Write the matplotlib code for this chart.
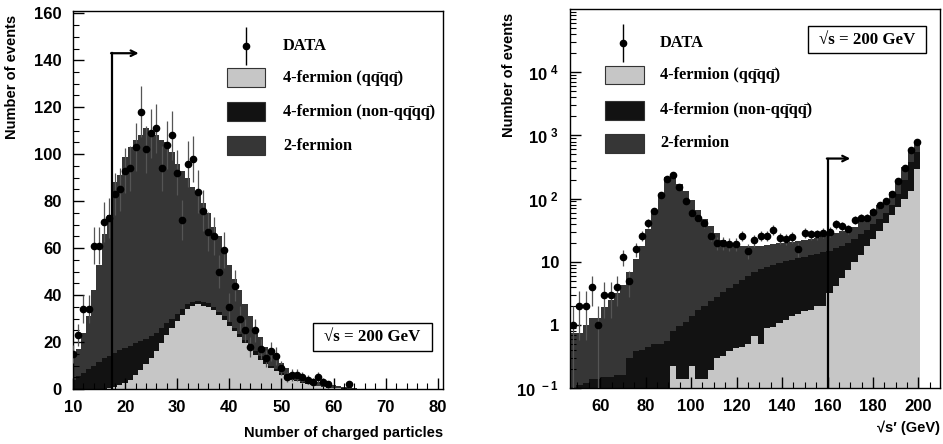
import matplotlib
matplotlib.use('Agg')
import matplotlib.pyplot as plt
import numpy as np
from matplotlib.patches import Rectangle
from matplotlib.ticker import MultipleLocator, FixedLocator, FixedFormatter, LogLocator, NullFormatter

plt.rcParams['font.family'] = ['Liberation Sans', 'DejaVu Sans']
plt.rcParams['font.weight'] = 'bold'
plt.rcParams['mathtext.fontset'] = 'custom'
plt.rcParams['mathtext.bf'] = 'Liberation Sans:bold'
plt.rcParams['mathtext.rm'] = 'Liberation Sans'

# Colores de las tres contribuciones simuladas
col_qqqq = '#c6c6c6'
col_non = '#121212'
col_2f = '#363636'

# ---------------- Panel izquierdo: numero de particulas cargadas ----------------
mult = np.arange(10, 65)  # bines de ancho 1 centrados en enteros
# Alturas apiladas (tope de cada capa)
top_total_izq = [14, 17, 24, 31, 42, 53, 66, 74, 88, 91, 99, 103, 106, 108, 111, 110, 108, 106, 105, 101,
                 96, 93, 90, 86, 83, 79, 75, 69, 65, 60, 53, 47, 42, 36, 31, 26, 22, 18, 16, 13,
                 11, 9, 7, 6.5, 5.5, 4.5, 3.8, 3, 2.5, 2, 1.6, 1.3, 1, 0.8, 0.5]
top_4f_izq = [4, 5.5, 7, 8.5, 10, 11.5, 13, 14, 15.5, 16.5, 17.5, 18.5, 19.5, 20.5, 21.5, 22.5, 24, 26, 28, 30,
              32, 34, 36, 37, 37.5, 37, 36.5, 35, 33, 31, 28.5, 26, 23.5, 21, 18.5, 16, 14, 12, 10, 8.5,
              7, 5.8, 4.8, 3.9, 3.1, 2.5, 1.9, 1.4, 1, 0.8, 0.6, 0.4, 0.3, 0.2, 0.1]
top_qqqq_izq = [0, 0, 0, 0, 0, 0, 0, 0.3, 0.8, 1.5, 2.5, 4, 6, 8, 10.5, 13, 16, 19.5, 23, 26,
                29, 31.5, 34, 35.5, 36, 35.5, 35, 33.5, 31.5, 29.5, 27, 24.5, 22, 19.5, 17, 14.5, 12.5, 10.5, 9, 7.5,
                6, 5, 4, 3.2, 2.5, 2, 1.5, 1.1, 0.8, 0.6, 0.4, 0.3, 0.2, 0.1, 0.05]
datos_x_izq = [10, 11, 12, 13, 14, 15, 16, 17, 18, 19, 20, 21, 22, 23, 24, 25, 26, 27, 28, 29,
               30, 31, 32, 33, 34, 35, 36, 37, 38, 39, 40, 41, 42, 43, 44, 45, 46, 47, 48, 49,
               50, 51, 52, 53, 54, 55, 56, 57, 58, 59, 63]
datos_y_izq = [15, 23, 34, 34, 61, 61, 71, 73, 83, 85, 93, 94, 103, 118, 102, 109, 111, 94, 104, 108,
               92, 72, 96, 98, 84, 76, 67, 65, 50, 59, 35, 44, 30, 25, 18, 25, 17, 13, 16, 14,
               9, 5, 6, 6, 5, 4, 3, 5, 3, 2, 2]

# ---------------- Panel derecho: sqrt(s') ----------------
bordes_der = 2.75 * np.arange(17, 74)  # 56 bines de 2.75 GeV
top_total_der = [0.74, 0.74, 1.0, 1.3, 1.3, 1.9, 2.5, 3.2, 4.3, 7,
                 11, 18, 33, 60, 118, 220, 220, 170, 130, 95,
                 66, 48, 37, 28, 22, 19, 18, 17.5, 17.5, 18,
                 18, 18.5, 19, 19.5, 20, 20.5, 21, 22, 23, 24,
                 26, 28, 29, 31, 33, 36, 48, 51, 67, 80,
                 96, 126, 199, 317, 596, 807]
top_4f_der = [0.09, 0.11, 0.12, 0.14, 0.14, 0.15, 0.15, 0.16, 0.16, 0.3,
              0.38, 0.4, 0.45, 0.49, 0.5, 0.55, 0.8, 0.95, 1.1, 1.4,
              1.7, 2.0, 2.4, 2.8, 3.3, 3.9, 4.5, 5.2, 6.0, 6.8,
              7.6, 8.4, 9.0, 9.6, 10.2, 10.8, 11.4, 12.0, 12.6, 13.3,
              14.0, 15.0, 16.5, 18, 20, 23, 27, 32, 40, 48,
              60, 80, 120, 200, 380, 550]
top_qqqq_der = [0, 0, 0, 0, 0, 0, 0, 0, 0, 0,
                0, 0, 0, 0, 0, 0, 0.22, 0.14, 0.14, 0.22,
                0.14, 0.14, 0.19, 0.3, 0.32, 0.38, 0.43, 0.45, 0.49, 0.66,
                0.49, 0.89, 0.94, 1.07, 1.2, 1.37, 1.5, 1.64, 1.74, 1.97,
                2.0, 3.2, 4.2, 5.6, 7.5, 10, 13, 18, 23, 31,
                41, 55, 73, 98, 130, 295]
datos_y_der = [1, 2, 2, 4, 1, 3, 3, 4, 12, 5,
               16, 26, 41, 63, 112, 205, 240, 151, 93, 59,
               49, 41, 26, 20, 20, 19, 19, 26, 15, 22,
               26, 26, 32, 24, 23, 25, 16, 29, 27, 27,
               29, 30, 39, 37, 33, 46, 49, 50, 62, 78,
               92, 120, 190, 300, 580, 790]

fig = plt.figure(figsize=(9.43, 4.44), dpi=100)
ax1 = fig.add_axes([0.0774, 0.1239, 0.3924, 0.8514])
ax2 = fig.add_axes([0.6045, 0.126, 0.3924, 0.8536])

# Histogramas apilados
bordes_izq = np.append(mult - 0.5, mult[-1] + 0.5)
ax1.stairs(top_total_izq, bordes_izq, fill=True, color=col_2f, lw=0)
ax1.stairs(top_4f_izq, bordes_izq, fill=True, color=col_non, lw=0)
ax1.stairs(top_qqqq_izq, bordes_izq, fill=True, color=col_qqqq, lw=0)
ax1.errorbar(datos_x_izq, datos_y_izq, yerr=np.sqrt(datos_y_izq), fmt='o', ms=4.5, color='k',
             ecolor='#555555', elinewidth=0.9, capsize=0, zorder=4)

base = 1e-3
ax2.stairs(np.maximum(top_total_der, base), bordes_der, baseline=base, fill=True, color=col_2f, lw=0)
ax2.stairs(np.maximum(top_4f_der, base), bordes_der, baseline=base, fill=True, color=col_non, lw=0)
ax2.stairs(np.maximum(top_qqqq_der, base), bordes_der, baseline=base, fill=True, color=col_qqqq, lw=0)
centros_der = 0.5 * (bordes_der[:-1] + bordes_der[1:])
yd = np.array(datos_y_der, dtype=float)
err_bajo = np.minimum(np.sqrt(yd), yd * 0.999)
ax2.errorbar(centros_der, yd, yerr=[err_bajo, np.sqrt(yd)], fmt='o', ms=4.5, color='k',
             ecolor='#555555', elinewidth=0.9, capsize=0, zorder=4)
ax2.set_yscale('log')

# Lineas de corte con flecha
ax1.plot([17.5, 17.5], [0, 143], color='k', lw=1.6, zorder=5)
ax1.annotate('', xy=(22.6, 143), xytext=(17.3, 143),
             arrowprops=dict(arrowstyle='->', lw=1.6, color='k', shrinkA=0, shrinkB=0), zorder=5)
ax2.plot([160, 160], [0.1, 430], color='k', lw=1.6, zorder=5)
ax2.annotate('', xy=(170, 430), xytext=(159.7, 430),
             arrowprops=dict(arrowstyle='->', lw=1.6, color='k', shrinkA=0, shrinkB=0), zorder=5)

# Ejes
ax1.set_xlim(10, 81)
ax1.set_ylim(0, 161)
ax1.xaxis.set_major_locator(MultipleLocator(10))
ax1.xaxis.set_minor_locator(MultipleLocator(2))
ax1.yaxis.set_major_locator(MultipleLocator(20))
ax1.yaxis.set_minor_locator(MultipleLocator(5))

ax2.set_xlim(46.75, 209.5)
ax2.set_ylim(0.1, 1e5)
ax2.xaxis.set_major_locator(MultipleLocator(20))
ax2.xaxis.set_minor_locator(MultipleLocator(5))
ax2.yaxis.set_major_locator(FixedLocator([0.1, 1, 10, 100, 1000, 10000]))
ax2.yaxis.set_major_formatter(FixedFormatter([r'$\mathbf{10^{\ -1}}$', '1', '10',
                                              r'$\mathbf{10^{\ 2}}$', r'$\mathbf{10^{\ 3}}$',
                                              r'$\mathbf{10^{\ 4}}$']))
ax2.yaxis.set_minor_locator(LogLocator(subs=np.arange(2, 10)))
ax2.yaxis.set_minor_formatter(NullFormatter())

for ax in (ax1, ax2):
    ax.tick_params(which='both', direction='in', top=False, right=False, labelsize=12)
    ax.tick_params(which='major', length=8, width=1, pad=8)
    ax.tick_params(which='minor', length=4, width=0.8)
    for s in ax.spines.values():
        s.set_linewidth(1.0)
    ax.text(-0.165, 0.99, 'Number of events', rotation=90, transform=ax.transAxes,
            ha='center', va='top', fontsize=10.5, fontweight='bold')

ax1.text(1.0, -0.116, 'Number of charged particles', transform=ax1.transAxes,
         ha='right', va='center', fontsize=10.5, fontweight='bold')
ax2.text(1.0, -0.106, '\u221as\u2032 (GeV)', transform=ax2.transAxes,
         ha='right', va='center', fontsize=10.5, fontweight='bold')

# Leyendas dibujadas a mano
serif = ['Liberation Serif', 'DejaVu Serif']
etiquetas = ['4-fermion (qq\u0304qq\u0304)', '4-fermion (non-qq\u0304qq\u0304)', '2-fermion']
colores = [col_qqqq, col_non, col_2f]


def leyenda(ax, xm, ym, xt, xp, ys):
    ax.errorbar([xm], [ym], yerr=[[0.05], [0.05]], fmt='o', ms=4.5, color='k', ecolor='k',
                elinewidth=1, capsize=0, transform=ax.transAxes, clip_on=False)
    ax.text(xt, ym, 'DATA', transform=ax.transAxes, va='center', ha='left',
            fontsize=11.8, fontweight='bold', family=serif)
    for y, lab, c in zip(ys, etiquetas, colores):
        ax.add_patch(Rectangle((xp, y - 0.025), 0.104, 0.05, transform=ax.transAxes,
                               facecolor=c, edgecolor='#333333', lw=0.8))
        ax.text(xt, y, lab, transform=ax.transAxes, va='center', ha='left',
                fontsize=11.8, fontweight='bold', family=serif)


leyenda(ax1, 0.468, 0.907, 0.568, 0.416, [0.823, 0.733, 0.643])
leyenda(ax2, 0.143, 0.910, 0.243, 0.095, [0.826, 0.733, 0.646])

# Cajas de energia
for ax, (x0, y0, x1, y1) in ((ax1, (0.649, 0.1005, 0.970, 0.175)), (ax2, (0.643, 0.884, 0.962, 0.955))):
    ax.add_patch(Rectangle((x0, y0), x1 - x0, y1 - y0, transform=ax.transAxes,
                           facecolor='white', edgecolor='k', lw=1.0, zorder=6))
    ax.text((x0 + x1) / 2, (y0 + y1) / 2, '\u221as = 200 GeV', transform=ax.transAxes,
            ha='center', va='center', fontsize=12.2, fontweight='bold', family=serif, zorder=7)

fig.savefig('out.png', dpi=100)
